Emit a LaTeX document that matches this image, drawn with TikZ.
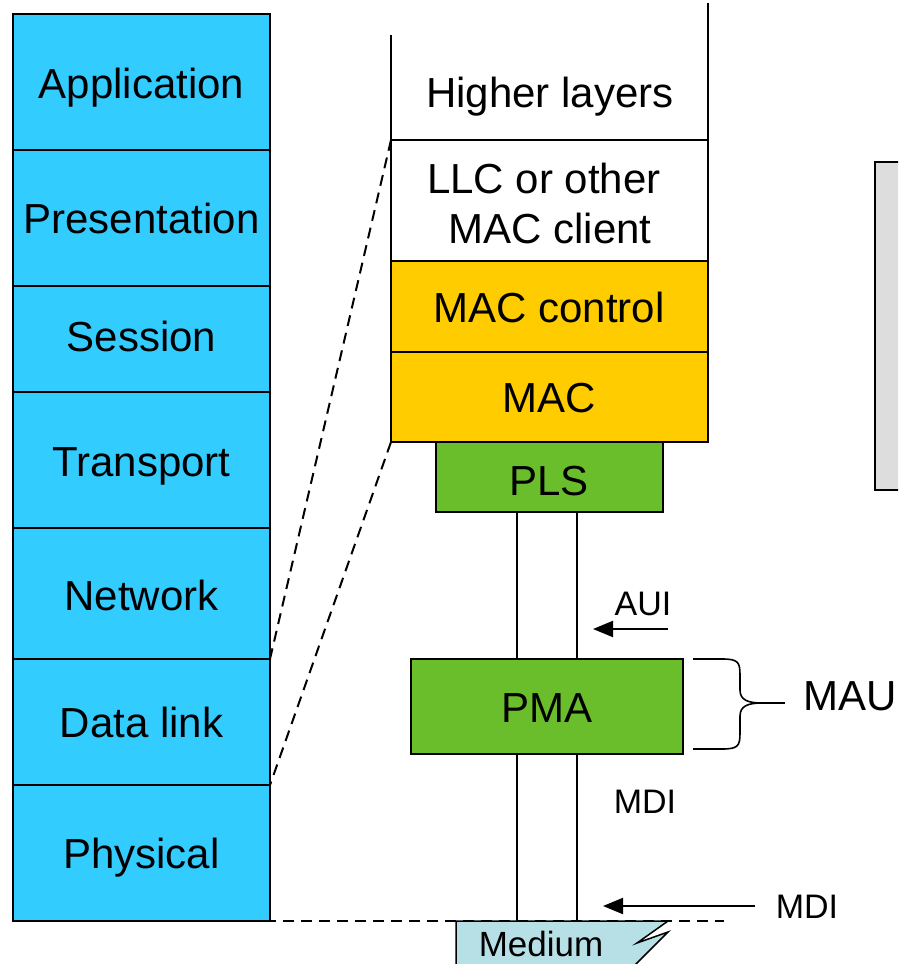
\documentclass[tikz,border=0pt]{standalone}
\usepackage{fontspec}
\setmainfont{Liberation Sans}
\usetikzlibrary{arrows.meta}
\definecolor{osiblue}{RGB}{51,204,255}
\definecolor{macorange}{RGB}{255,204,0}
\definecolor{phygreen}{RGB}{106,189,43}
\definecolor{medfill}{RGB}{183,224,230}
\definecolor{panelgray}{RGB}{221,221,221}

\begin{document}
\begin{tikzpicture}[x=1pt,y=-1pt,
  layerbox/.style={draw=black, line width=2pt, inner sep=0pt, outer sep=0pt, rectangle},
  big/.style={font=\fontsize{42}{50}\selectfont, anchor=base, inner sep=0pt},
  small/.style={font=\fontsize{34}{40}\selectfont, anchor=base, inner sep=0pt},
  wire/.style={line width=1.6pt},
  guide/.style={line width=2pt, dash pattern=on 11pt off 7pt},
  pointer/.style={line width=2pt, -{Triangle[length=20pt,width=16pt]}}]

\useasboundingbox (0,0) rectangle (898,964);
\clip (0,0) rectangle (898,964);
\fill[white] (0,0) rectangle (898,964);

% floor line of the medium
\coordinate (gl) at (103,921);
\coordinate (gr) at (724,921);
\draw[guide] (gl) -- (gr);

% OSI reference model column
\node[layerbox, fill=osiblue, minimum width=257pt, minimum height=136pt] (osi1) at (141.5,82) {};
\node[layerbox, fill=osiblue, minimum width=257pt, minimum height=136pt] (osi2) at (141.5,218) {};
\node[layerbox, fill=osiblue, minimum width=257pt, minimum height=106pt] (osi3) at (141.5,339) {};
\node[layerbox, fill=osiblue, minimum width=257pt, minimum height=136pt] (osi4) at (141.5,460) {};
\node[layerbox, fill=osiblue, minimum width=257pt, minimum height=131pt] (osi5) at (141.5,593.5) {};
\node[layerbox, fill=osiblue, minimum width=257pt, minimum height=126pt] (osi6) at (141.5,722) {};
\node[layerbox, fill=osiblue, minimum width=257pt, minimum height=136pt] (osi7) at (141.5,853) {};
\node[big] (osit1) at (141.5,98) {Application};
\node[big] (osit2) at (141.5,233) {Presentation};
\node[big] (osit3) at (141.5,351) {Session};
\node[big] (osit4) at (141.5,476) {Transport};
\node[big] (osit5) at (141.5,610) {Network};
\node[big] (osit6) at (141.5,737) {Data link};
\node[big] (osit7) at (141.5,868) {Physical};

% IEEE 802.3 stack
\coordinate (hlL) at (391,35);
\coordinate (hlR) at (708,3);
\node[layerbox, fill=white, minimum width=317pt, minimum height=121pt] (llc) at (549.5,200.5) {};
\draw[line width=2pt] (hlL) -- (llc.north west);
\draw[line width=2pt] (hlR) -- (llc.north east);
\node[big] (hltext) at (550,107) {Higher layers};
\node[big] (llc1) at (544,193) {LLC or other};
\node[big] (llc2) at (550,243) {MAC client};

\node[layerbox, fill=macorange, minimum width=317pt, minimum height=91pt] (macctl) at (549.5,306.5) {};
\node[big] (macctltext) at (549,322) {MAC control};
\node[layerbox, fill=macorange, minimum width=317pt, minimum height=90pt] (mac) at (549.5,397) {};
\node[big] (mactext) at (549,412) {MAC};

\node[layerbox, fill=phygreen, minimum width=227pt, minimum height=70pt] (pls) at (549.5,477) {};
\node[big] (plstext) at (549,495) {PLS};
\node[layerbox, fill=phygreen, minimum width=272pt, minimum height=95pt] (pma) at (547,706.5) {};
\node[big] (pmatext) at (547,722) {PMA};

% zoom guides from the data link / physical layers
\draw[guide] (llc.north west) -- (osi6.north east);
\draw[guide] (mac.south west) -- (osi7.north east);

% medium
\coordinate (medtop) at (541,921);
\filldraw[fill=medfill, draw=black, line width=1.5pt]
  (456,995) -- (456,921) -- (668,921) -- (637,943) -- (668,932) -- (605,995) -- cycle;
\node[small, font=\fontsize{35}{40}\selectfont] (medtext) at (541,956) {Medium};

% attachment wires
\coordinate (wa) at (517,0);
\coordinate (wb) at (577,0);
\draw[wire] (pls.south -| wa) -- (pma.north -| wa);
\draw[wire] (pls.south -| wb) -- (pma.north -| wb);
\draw[wire] (pma.south -| wa) -- (medtop -| wa);
\draw[wire] (pma.south -| wb) -- (medtop -| wb);

% interface labels
\node[small] (aui) at (643,615) {AUI};
\coordinate (auiS) at (668,629);
\coordinate (auiE) at (593,629);
\draw[pointer] (auiS) -- (auiE);

\node[small] (mdi1) at (645,813) {MDI};
\node[small] (mdi2) at (807,918) {MDI};
\coordinate (mdiS) at (755,906);
\coordinate (mdiE) at (603,906);
\draw[pointer] (mdiS) -- (mdiE);

% MAU brace
\coordinate (braceTip) at (762,703);
\coordinate (braceEnd) at (785,703);
\draw[line width=1.6pt] (693,659) -- (722,659)
  .. controls (738,659) and (740,662) .. (740,675) -- (740,690)
  .. controls (740,700) and (748,703) .. (braceTip)
  .. controls (748,703) and (740,706) .. (740,716) -- (740,733)
  .. controls (740,746) and (738,749) .. (722,749) -- (693,749);
\draw[line width=1.6pt] (braceTip) -- (braceEnd);
\node[big, anchor=base west] (mau) at (803,710) {MAU};

% side panel
\filldraw[fill=panelgray, draw=black, line width=2pt] (875,162) rectangle (930,490);
\end{tikzpicture}
\end{document}
